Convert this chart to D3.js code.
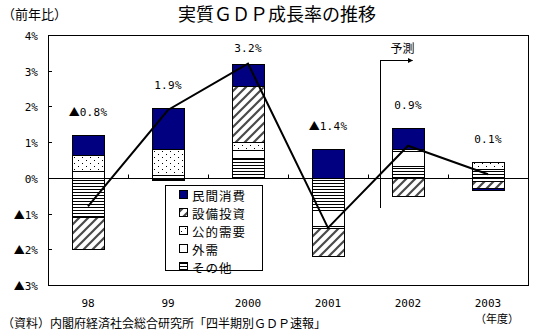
<!DOCTYPE html>
<html>
<head>
<meta charset="utf-8">
<script src="https://cdn.jsdelivr.net/npm/d3@7"></script>
<style>
  html, body { margin: 0; padding: 0; background: #fff; }
  svg { display: block; }
  .jp { font-family: "Noto Sans CJK JP", sans-serif; }
  .num { font-family: "DejaVu Sans Mono", monospace; }
</style>
</head>
<body>
<svg id="chart" width="546" height="330"></svg>
<script>
// 実質GDP成長率（年度）と需要項目別寄与度
const categories = ["98", "99", "2000", "2001", "2002", "2003"];
const growthRates = [-0.8, 1.9, 3.2, -1.4, 0.9, 0.1];

const privateConsumption = [0.55, 1.16, 0.63, 0.80, 0.61, -0.08];
const capitalInvestment  = [-0.90, -0.03, 1.56, -0.80, -0.51, -0.17];
const publicDemand       = [0.45, 0.72, 0.22, -0.05, 0.06, 0.20];
const externalDemand     = [0.20, 0.08, 0.23, -0.45, 0.42, -0.10];
const otherItems         = [-1.10, -0.03, 0.56, -0.90, 0.32, 0.25];

const legendNames = ["民間消費", "設備投資", "公的需要", "外需", "その他"];
const yTickValues = [4, 3, 2, 1, 0, -1, -2, -3];

// stacking order from zero outward
const stackKeys = ["その他", "外需", "公的需要", "設備投資", "民間消費"];
const rows = categories.map((c, i) => ({
  cat: c,
  "民間消費": privateConsumption[i],
  "設備投資": capitalInvestment[i],
  "公的需要": publicDemand[i],
  "外需": externalDemand[i],
  "その他": otherItems[i]
}));

const svg = d3.select("#chart");
const plot = { left: 48, right: 528, top: 35, bottom: 285 };

const x = d3.scaleBand().domain(categories)
  .range([plot.left, plot.right]).paddingInner(0.6).paddingOuter(0.3);
const y = d3.scaleLinear().domain([-3, 4]).range([plot.bottom, plot.top]);
const cx = c => x(c) + x.bandwidth() / 2;

// fill patterns
const defs = svg.append("defs");
const hatch = defs.append("pattern").attr("id", "hatch")
  .attr("patternUnits", "userSpaceOnUse").attr("width", 9).attr("height", 9);
hatch.append("rect").attr("width", 9).attr("height", 9).attr("fill", "#fff");
hatch.append("path").attr("d", "M-2,2 L2,-2 M0,9 L9,0 M7,11 L11,7")
  .attr("stroke", "#4a4a4a").attr("stroke-width", 2.2);

const dots = defs.append("pattern").attr("id", "dots")
  .attr("patternUnits", "userSpaceOnUse").attr("width", 8).attr("height", 6);
dots.append("rect").attr("width", 8).attr("height", 6).attr("fill", "#fff");
dots.append("rect").attr("x", 2).attr("y", 1).attr("width", 1).attr("height", 1).attr("fill", "#000");
dots.append("rect").attr("x", 6).attr("y", 4).attr("width", 1).attr("height", 1).attr("fill", "#000");

const hlines = defs.append("pattern").attr("id", "hlines")
  .attr("patternUnits", "userSpaceOnUse").attr("width", 4).attr("height", 3);
hlines.append("rect").attr("width", 4).attr("height", 3).attr("fill", "#fff");
hlines.append("rect").attr("width", 4).attr("height", 1).attr("fill", "#000");

defs.append("marker").attr("id", "arrow")
  .attr("viewBox", "0 0 10 10").attr("refX", 9).attr("refY", 5)
  .attr("markerWidth", 5).attr("markerHeight", 5).attr("markerUnits", "userSpaceOnUse")
  .attr("orient", "auto")
  .append("path").attr("d", "M0,0 L10,5 L0,10 Z").attr("fill", "#000");

const fills = {
  "民間消費": "#000080",
  "設備投資": "url(#hatch)",
  "公的需要": "url(#dots)",
  "外需": "#ffffff",
  "その他": "url(#hlines)"
};

// plot frame
svg.append("rect")
  .attr("x", plot.left + 0.5).attr("y", plot.top + 0.5)
  .attr("width", plot.right - plot.left).attr("height", plot.bottom - plot.top)
  .attr("fill", "none").attr("stroke", "#000");

// y axis ticks (inside) and labels
const yAxis = d3.axisRight(y).tickValues(yTickValues).tickSize(3).tickFormat("");
svg.append("g").attr("transform", `translate(${plot.left + 0.5},0)`).call(yAxis)
  .call(g => g.select(".domain").remove())
  .selectAll("line").attr("stroke", "#000").attr("shape-rendering", "crispEdges");

const yLab = svg.append("g").selectAll("text").data(yTickValues).join("text")
  .attr("x", 38).attr("y", d => y(d) + 2)
  .attr("text-anchor", "end").attr("dominant-baseline", "middle")
  .attr("font-size", 11);
yLab.each(function (d) {
  const t = d3.select(this);
  if (d < 0) t.append("tspan").attr("class", "jp").text("▲");
  t.append("tspan").attr("class", "num").text(Math.abs(d) + "%");
});

// stacked contributions
const series = d3.stack().keys(stackKeys).offset(d3.stackOffsetDiverging)(rows);
svg.append("g").selectAll("g").data(series).join("g")
  .attr("fill", s => fills[s.key])
  .selectAll("rect").data(s => s).join("rect")
  .attr("x", d => x(d.data.cat) + 0.5)
  .attr("y", d => y(Math.max(d[0], d[1])) + 0.5)
  .attr("width", x.bandwidth())
  .attr("height", d => Math.abs(y(d[0]) - y(d[1])))
  .attr("stroke", "#000").attr("stroke-width", 1)
  .attr("shape-rendering", "crispEdges");

// zero line with category separators
const y0 = Math.round(y(0)) + 0.5;
svg.append("line").attr("x1", plot.left).attr("x2", plot.right)
  .attr("y1", y0).attr("y2", y0).attr("stroke", "#000");
const step = x.step();
svg.append("g").selectAll("line").data(categories.slice(1)).join("line")
  .attr("x1", c => Math.round(x(c) - (step - x.bandwidth()) / 2) + 0.5)
  .attr("x2", c => Math.round(x(c) - (step - x.bandwidth()) / 2) + 0.5)
  .attr("y1", y0).attr("y2", y0 - 4).attr("stroke", "#000");

// growth rate line
const line = d3.line().x((d, i) => cx(categories[i])).y(d => y(d));
svg.append("path").datum(growthRates)
  .attr("d", line).attr("fill", "none")
  .attr("stroke", "#000").attr("stroke-width", 2);

// growth rate labels above each bar
const valLab = svg.append("g").selectAll("text").data(growthRates).join("text")
  .attr("x", (d, i) => cx(categories[i]))
  .attr("y", (d, i) => {
    const top = d3.max(series, s => s[i][1]);
    return Math.max(y(top) - 22, plot.top + 14);
  })
  .attr("text-anchor", "middle").attr("dominant-baseline", "middle")
  .attr("font-size", 11);
valLab.each(function (d) {
  const t = d3.select(this);
  if (d < 0) t.append("tspan").attr("class", "jp").text("▲");
  t.append("tspan").attr("class", "num").attr("letter-spacing", 0.3).text(Math.abs(d).toFixed(1) + "%");
});

// x labels
svg.append("g").selectAll("text").data(categories).join("text")
  .attr("class", "num").attr("x", c => cx(c)).attr("y", 304)
  .attr("text-anchor", "middle").attr("dominant-baseline", "middle")
  .attr("font-size", 11).text(c => c);

// forecast marker
const fx = Math.round(x("2002") - 12) + 0.5;
svg.append("line").attr("x1", fx).attr("x2", fx).attr("y1", 60).attr("y2", 208)
  .attr("stroke", "#000");
svg.append("line").attr("x1", fx).attr("x2", fx + 32).attr("y1", 60.5).attr("y2", 60.5)
  .attr("stroke", "#000").attr("marker-end", "url(#arrow)");
svg.append("text").attr("class", "jp").attr("x", fx + 10).attr("y", 47)
  .attr("dominant-baseline", "central").attr("font-size", 12).text("予測");

// legend
const lg = svg.append("g");
lg.append("rect").attr("x", 165.5).attr("y", 185.5).attr("width", 97).attr("height", 85)
  .attr("fill", "#fff").attr("stroke", "#000");
const items = lg.selectAll("g").data(legendNames).join("g")
  .attr("transform", (d, i) => `translate(179,${194 + i * 18})`);
items.append("rect").attr("x", 0.5).attr("y", -3.5).attr("width", 8).attr("height", 8)
  .attr("fill", d => fills[d]).attr("stroke", "#000").attr("shape-rendering", "crispEdges");
items.append("text").attr("class", "jp").attr("x", 13).attr("y", 1)
  .attr("dominant-baseline", "central").attr("font-size", 12.5)
  .attr("letter-spacing", 1).text(d => d);

// titles and notes
svg.append("text").attr("class", "jp").attr("x", 178).attr("y", 13)
  .attr("dominant-baseline", "central").attr("font-size", 18).text("実質ＧＤＰ成長率の推移");
svg.append("text").attr("class", "jp").attr("x", 2).attr("y", 13)
  .attr("dominant-baseline", "central").attr("font-size", 13).text("（前年比）");
svg.append("text").attr("class", "jp").attr("x", 2).attr("y", 322)
  .attr("dominant-baseline", "central").attr("font-size", 12)
  .text("（資料）内閣府経済社会総合研究所「四半期別ＧＤＰ速報」");
svg.append("text").attr("class", "jp").attr("x", 475).attr("y", 318)
  .attr("dominant-baseline", "central").attr("font-size", 11).text("（年度）");
</script>
</body>
</html>
